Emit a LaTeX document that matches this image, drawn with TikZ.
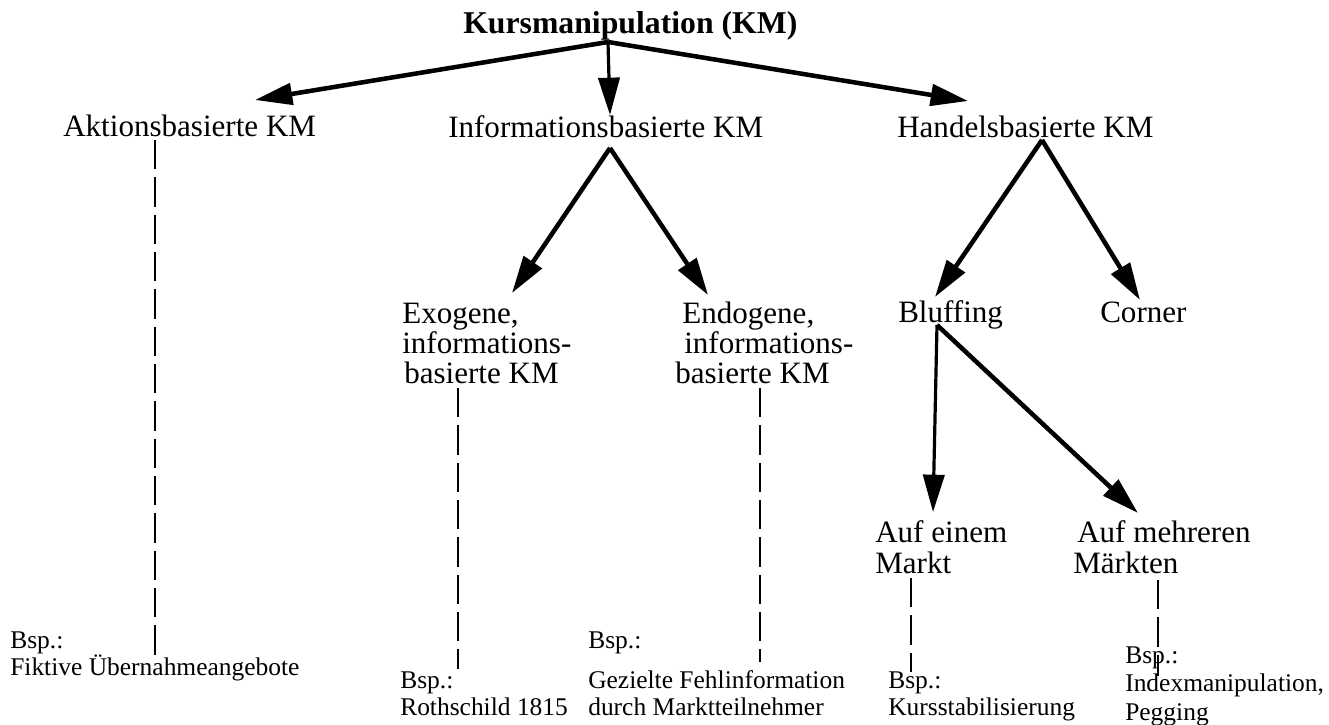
\documentclass[tikz,border=0pt]{standalone}
\usepackage{fontspec}
\setmainfont{Liberation Serif}
\usetikzlibrary{arrows.meta}
\begin{document}
\begin{tikzpicture}[x=0.75pt,y=-0.75pt,
  main/.style={font=\fontsize{23.3}{28}\selectfont, anchor=base west, inner sep=0pt},
  ttl/.style={font=\bfseries\fontsize{23.8}{28}\selectfont, anchor=base west, inner sep=0pt},
  ex/.style={font=\fontsize{19.1}{22}\selectfont, anchor=base west, inner sep=0pt},
  arr/.style={line width=3.4pt, -{Triangle[length=28pt,width=16pt]}},
  varr/.style={line width=2.4pt, -{Triangle[length=28pt,width=16pt]}},
  dsh/.style={line width=2.2pt, dash pattern=on 22pt off 6pt}]
\useasboundingbox (0,0) rectangle (1329,725);

% texts
\node[ttl] (km) at (463,33) {Kursmanipulation (KM)};
\node[main] (akt) at (63,136) {Aktionsbasierte KM};
\node[main] (inf) at (448,137) {Informationsbasierte KM};
\node[main] (han) at (897,137) {Handelsbasierte KM};
\node[main] (exo1) at (402,323) {Exogene,};
\node[main] (exo2) at (402,353) {informations-};
\node[main] (exo3) at (404,383) {basierte KM};
\node[main] (endo1) at (682,323) {Endogene,};
\node[main] (endo2) at (684,353) {informations-};
\node[main] (endo3) at (675,383) {basierte KM};
\node[main] (bluf) at (898,322) {Bluffing};
\node[main] (corn) at (1100,322) {Corner};
\node[main] (ein1) at (875,542) {Auf einem};
\node[main] (ein2) at (875,573) {Markt};
\node[main] (mehr1) at (1077,542) {Auf mehreren};
\node[main] (mehr2) at (1073,573) {Märkten};

\node[ex] (b1) at (10,648) {Bsp.:};
\node[ex] (b1t) at (10,675) {Fiktive Übernahmeangebote};
\node[ex] (b2) at (400,688) {Bsp.:};
\node[ex] (b2t) at (400,715) {Rothschild 1815};
\node[ex] (b3) at (588,648) {Bsp.:};
\node[ex] (b3t) at (588,688) {Gezielte Fehlinformation};
\node[ex] (b3u) at (588,715) {durch Marktteilnehmer};
\node[ex] (b4) at (888,688) {Bsp.:};
\node[ex] (b4t) at (888,715) {Kursstabilisierung};
\node[ex] (b5) at (1125,663) {Bsp.:};
\node[ex] (b5t) at (1125,691) {Indexmanipulation,};
\node[ex] (b5u) at (1125,720) {Pegging};

% junctions and tips
\coordinate (j0) at (608,42);
\coordinate (tAkt) at (255,100);
\coordinate (tInf) at (610,115);
\coordinate (tHan) at (968,101);
\coordinate (j1) at (610,148);
\coordinate (tExo) at (512,293);
\coordinate (tEndo) at (708,295);
\coordinate (j2) at (1042,140);
\coordinate (tBluf) at (935,297);
\coordinate (tCorn) at (1140,300);
\coordinate (j3) at (937,325);
\coordinate (tEin) at (933,512);
\coordinate (tMehr) at (1138,513);

\draw[arr] (j0) -- (tAkt);
\draw[varr] (j0) -- (tInf);
\draw[arr] (j0) -- (tHan);
\draw[arr] (j1) -- (tExo);
\draw[arr] (j1) -- (tEndo);
\draw[arr] (j2) -- (tBluf);
\draw[arr] (j2) -- (tCorn);
\draw[varr] (j3) -- (tEin);
\draw[arr] (j3) -- (tMehr);

% dashed example links
\coordinate (d1a) at (155,140); \coordinate (d1b) at (155,658);
\coordinate (d2a) at (458,388); \coordinate (d2b) at (458,669);
\coordinate (d3a) at (760,388); \coordinate (d3b) at (760,662);
\coordinate (d4a) at (911,578); \coordinate (d4b) at (911,672);
\coordinate (d5a) at (1158,580); \coordinate (d5b) at (1158,676);
\draw[dsh] (d1a) -- (d1b);
\draw[dsh] (d2a) -- (d2b);
\draw[dsh] (d3a) -- (d3b);
\draw[dsh] (d4a) -- (d4b);
\draw[dsh] (d5a) -- (d5b);
\end{tikzpicture}
\end{document}
